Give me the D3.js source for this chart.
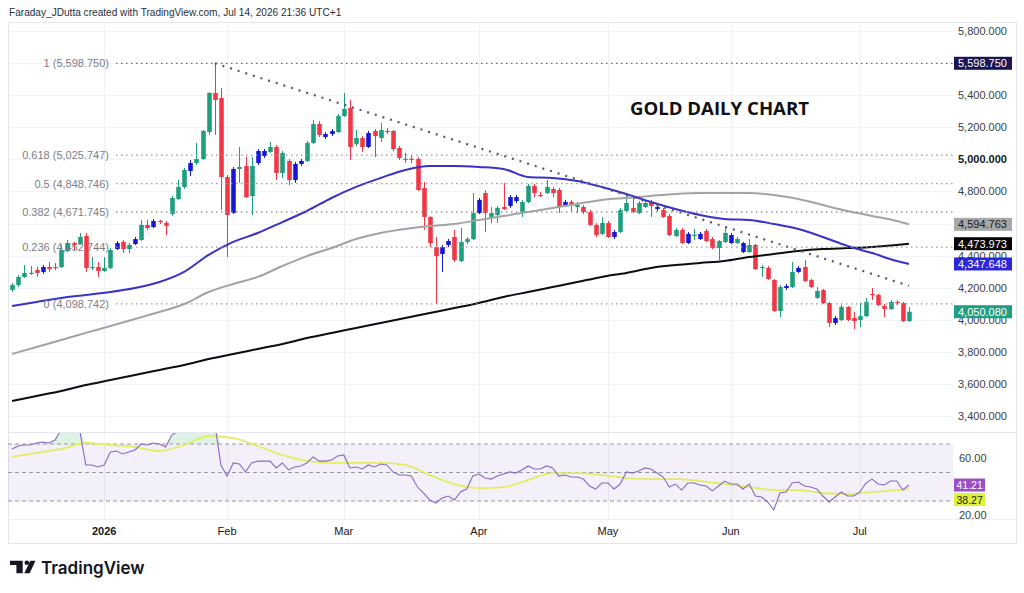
<!DOCTYPE html>
<html><head><meta charset="utf-8">
<script src="https://cdn.jsdelivr.net/npm/d3@7"></script>
<style>
html,body{margin:0;padding:0;background:#fff;}
svg{display:block;font-family:"Liberation Sans",Arial,sans-serif;}
</style></head><body>
<svg id="chart" width="1024" height="593"></svg>
<script>
// ---------------- DATA ----------------
const startDate = "2025-12-10";
const endDate = "2026-07-14";
const holidays = ["2025-12-25","2026-01-01","2026-01-19","2026-02-16","2026-04-03","2026-05-25","2026-06-19","2026-07-03"];

// [open, high, low, close] per trading day
const candles = [
[4186,4229,4173,4217],[4217,4279,4204,4267],[4267,4341,4260,4292],[4290,4335,4279,4293],[4310,4329,4267,4292],
[4298,4341,4285,4329],[4329,4360,4298,4316],[4329,4354,4310,4323],[4329,4466,4323,4435],[4429,4497,4422,4478],
[4478,4485,4435,4466],[4472,4541,4466,4516],[4522,4541,4298,4323],[4323,4391,4310,4329],[4329,4360,4267,4304],
[4304,4391,4298,4323],[4323,4447,4316,4435],[4441,4491,4435,4478],[4485,4497,4416,4441],[4441,4478,4416,4466],
[4472,4516,4466,4503],[4497,4622,4491,4591],[4591,4622,4560,4572],[4578,4628,4572,4616],[4616,4622,4597,4609],
[4603,4616,4528,4585],[4659,4771,4647,4759],[4753,4871,4747,4828],[4828,4946,4815,4934],[4927,4996,4896,4977],
[4977,5102,4965,5002],[5002,5183,4996,5177],[5170,5420,5152,5414],[5414,5598.75,5152,5370],[5382,5445,4684,4890],
[4890,4902,4391,4653],[4666,4952,4659,4940],[4940,5077,4853,4952],[4958,5015,4759,4765],[4771,5015,4653,4958],
[4977,5064,4965,5052],[5021,5064,5008,5052],[5046,5108,5040,5077],[5077,5089,4871,4915],[4915,5052,4884,5040],
[4990,5002,4840,4871],[4871,4983,4853,4971],[4971,5002,4958,4990],[4990,5114,4983,5102],[5102,5245,5096,5220],
[5220,5239,5139,5152],[5139,5170,5127,5158],[5158,5189,5145,5177],[5170,5283,5164,5270],[5270,5414,5264,5314],
[5320,5370,4996,5077],[5096,5183,5083,5133],[5133,5145,5046,5077],[5077,5177,5071,5164],[5177,5189,5015,5145],
[5133,5227,5108,5183],[5177,5195,5158,5170],[5177,5183,5052,5064],[5071,5083,4996,5008],[5000,5040,4977,5004],
[5004,5027,4977,5000],[5002,5015,4803,4809],[4821,4859,4560,4641],[4641,4645,4453,4478],[4453,4516,4098.742,4397],
[4410,4466,4298,4453],[4466,4503,4453,4491],[4516,4560,4360,4372],[4366,4572,4360,4485],[4485,4516,4472,4503],
[4503,4790,4497,4665],[4665,4759,4659,4747],[4790,4809,4547,4665],[4641,4703,4603,4665],[4653,4709,4603,4697],
[4703,4853,4684,4690],[4709,4778,4697,4765],[4740,4778,4728,4765],[4672,4747,4641,4734],[4734,4846,4728,4834],
[4834,4846,4765,4790],[4778,4796,4765,4771],[4790,4871,4784,4828],[4815,4828,4765,4790],[4809,4821,4666,4703],
[4715,4747,4703,4734],[4734,4747,4672,4722],[4703,4734,4666,4715],[4703,4715,4659,4672],[4672,4684,4585,4591],
[4591,4603,4516,4528],[4535,4641,4528,4603],[4603,4616,4510,4516],[4516,4560,4503,4547],[4547,4697,4541,4684],
[4678,4778,4672,4728],[4697,4759,4666,4672],[4666,4740,4659,4728],[4703,4740,4697,4728],[4734,4747,4641,4709],
[4690,4715,4678,4703],[4684,4697,4635,4641],[4647,4659,4522,4528],[4522,4572,4516,4560],[4560,4572,4472,4478],
[4478,4547,4472,4535],[4525,4566,4497,4530],[4503,4547,4497,4535],[4553,4566,4485,4491],[4503,4516,4441,4447],
[4447,4497,4372,4491],[4485,4578,4478,4541],[4478,4541,4472,4528],[4478,4516,4472,4503],[4478,4485,4416,4422],
[4422,4503,4416,4466],[4466,4472,4310,4316],[4323,4341,4267,4329],[4323,4335,4248,4254],[4248,4254,4048,4055],
[4055,4217,4017,4204],[4198,4223,4185,4210],[4204,4360,4198,4298],[4298,4335,4292,4323],[4329,4372,4235,4242],
[4248,4254,4198,4204],[4136,4204,4129,4179],[4185,4192,4098,4104],[4104,4111,3955,3980],[3980,4023,3967,4011],
[3998,4092,3992,4080],[4080,4086,3992,3998],[4011,4048,3942,3992],[3998,4104,3955,4023],[4023,4136,4017,4111],
[4161,4198,4123,4155],[4155,4161,4086,4092],[4086,4098,4017,4067],[4067,4123,4061,4111],[4111,4123,4092,4104],
[4104,4111,3986,3992],[3992,4079,3986,4050.08]
];
// bars painted blue by the bar-colour indicator
const blueBars = [5,17,20,23,29,36,40,41,46,47,51,52,58,70,71,76,81,82,90,98,105,110,112,117,119,126,128,134];

// moving averages, read at these bar indices
const maIdx = [0,4,8,12,16,20,24,28,32,36,40,44,48,52,56,60,64,68,72,76,80,84,88,92,96,100,104,108,112,116,120,124,128,132,136,140,144,146];
const maBlue = [4086,4111,4136,4154,4173,4198,4235,4298,4404,4485,4541,4609,4678,4759,4828,4884,4934,4958,4958,4952,4940,4890,4884,4865,4828,4784,4734,4690,4653,4628,4622,4597,4566,4516,4460,4416,4366,4347.648];
const maGray = [3787,3830,3874,3918,3961,4005,4048,4098,4173,4223,4267,4335,4397,4447,4503,4541,4566,4584,4597,4622,4647,4672,4697,4722,4747,4759,4772,4784,4790,4790,4790,4778,4753,4715,4678,4647,4616,4594.763];
const maBlack = [3494,3525,3556,3593,3624,3656,3687,3718,3755,3787,3818,3849,3886,3918,3949,3980,4011,4042,4073,4105,4142,4173,4204,4235,4267,4292,4323,4341,4354,4366,4391,4410,4429,4441,4447,4454,4466,4473.973];

// RSI per bar and its moving average (read at maIdx)
const rsi = [66.5,68.6,69.3,69.3,70.7,71.4,70.7,72.8,80,84,
83,80,55.3,55.3,53.9,55.3,64.4,65.1,63,64.4,
65.8,70,69.3,70.7,70,67.9,76.3,79,82,83,
82,85,88,84,55.3,47.5,56.7,56,50.4,56.7,
58,58,58,53.2,56.7,51.8,53.9,54.6,56.7,60.9,
58,58,58.8,61.6,62.3,53.2,53.9,52.5,55.3,53.9,
56,55.3,50.4,48.2,48.2,47.5,39.8,35.6,30.7,28.6,
32.1,33.5,30.7,36.3,38.4,47.5,48.9,46.1,45.4,47.5,
48.9,50.4,49.6,51.8,54.6,52.5,52.5,54.6,53.2,47.5,
48.2,46.8,46.8,45.4,40.5,38.4,42.6,42.6,38.4,41.9,
50.4,49.6,51.1,53.2,52.5,49.6,46.8,39.8,41.9,37.7,
42.6,42.6,41.2,40.5,37.1,40.5,44,41.9,41.9,38.4,
41.9,33.5,32.8,29.3,23.7,35.6,36.3,42.6,43.3,40.5,
39.8,38.4,33.5,29.3,32.8,36.3,33.5,33.5,36.3,42.6,
45.4,41.9,41.2,44,44,37.7,41.21];
const rsiMA = [60.9,63.7,66.5,70.7,69.3,67.9,65.1,69.3,75.6,74.2,68.6,62.3,58.1,56.7,56.7,56.7,55.3,48.2,41.9,39.1,39.8,44.7,49.6,49.6,48.2,46.1,45.4,45.4,44.0,41.9,39.8,37.7,37.7,35.6,34.9,36.3,37.7,38.27];

// Fibonacci retracement
const fibRatios = ["1","0.618","0.5","0.382","0.236","0"];
const fibPrices = [5598.750,5025.747,4848.746,4671.745,4452.744,4098.742];
// descending trendline anchors (bar index, price)
const trendIdx = [33,146];
const trendPrice = [5598.75,4212];

const priceTicks = [5800,5600,5400,5200,5000,4800,4600,4400,4200,4000,3800,3600,3400];
const rsiTicks = [60,20];
const rsiLevels = [70,50,30];
const priceTags = [5598.750,4594.763,4473.973,4347.648,4050.080];
const rsiTags = [41.21,38.27];

// ---------------- LAYOUT ----------------
const PL=8, PR=953, PT=22, PB=432, RT=433, RB=519, FR=1016, FB=543;
const holidaySet = new Set(holidays);
const fmt = d3.utcFormat("%Y-%m-%d");
const dates = d3.utcDay.range(new Date(startDate+"T00:00:00Z"), d3.utcDay.offset(new Date(endDate+"T00:00:00Z"),1))
  .filter(d => d.getUTCDay()!==0 && d.getUTCDay()!==6 && !holidaySet.has(fmt(d)));
const N = candles.length;

const svg = d3.select("#chart");
const x = d3.scaleBand().domain(d3.range(N)).range([9, 912]).paddingInner(0).paddingOuter(0);
const bw = x.bandwidth();
const cx = i => x(i) + bw/2;
const y = d3.scaleLinear().domain([3400,5800]).range([416,31]);
const yr = d3.scaleLinear().domain([30,70]).range([501,444]);

const defs = svg.append("defs");
defs.append("clipPath").attr("id","pclip").append("rect").attr("x",PL).attr("y",PT).attr("width",PR-PL).attr("height",PB-PT);
defs.append("clipPath").attr("id","rclip").append("rect").attr("x",PL).attr("y",RT).attr("width",PR-PL).attr("height",RB-RT);

svg.append("rect").attr("width",1024).attr("height",593).attr("fill","#fff");

// grid
const grid = svg.append("g");
grid.selectAll(".hg").data(priceTicks).join("line")
  .attr("x1",PL).attr("x2",PR).attr("y1",d=>Math.round(y(d))+0.5).attr("y2",d=>Math.round(y(d))+0.5)
  .attr("stroke","#f0f3fa");
const monthIdx = d3.range(N).filter(i => i>0 && dates[i].getUTCMonth()!==dates[i-1].getUTCMonth());
grid.selectAll(".vg").data(monthIdx).join("line")
  .attr("x1",i=>Math.round(cx(i))+0.5).attr("x2",i=>Math.round(cx(i))+0.5).attr("y1",PT).attr("y2",RB)
  .attr("stroke","#eef1f6");

// frame
svg.append("rect").attr("x",PL+0.5).attr("y",PT+0.5).attr("width",FR-PL).attr("height",FB-PT)
  .attr("fill","none").attr("stroke","#e3e6ec");
svg.append("line").attr("x1",PL).attr("x2",FR).attr("y1",RT-0.5).attr("y2",RT-0.5).attr("stroke","#e3e6ec");
svg.append("line").attr("x1",PL).attr("x2",FR).attr("y1",RB+0.5).attr("y2",RB+0.5).attr("stroke","#eceef2");

// ---------------- PRICE PANE ----------------
const pane = svg.append("g").attr("clip-path","url(#pclip)");

// fib levels
const fibG = svg.append("g");
fibPrices.forEach((p,k)=>{
  fibG.append("line").attr("x1",116).attr("x2",PR).attr("y1",y(p)).attr("y2",y(p))
    .attr("stroke", k===0 ? "#6b6e78" : "#9598a1").attr("stroke-width",1.3).attr("stroke-dasharray","1.5 3.5");
  fibG.append("text").attr("x",109).attr("y",y(p)+4).attr("text-anchor","end")
    .attr("font-size",11).attr("fill","#7b7e88")
    .text(`${fibRatios[k]} (${d3.format(",.3f")(p)})`);
});

// candles
const blueSet = new Set(blueBars);
const colorOf = (c,i) => blueSet.has(i) ? "#1616d8" : (c[3] >= c[0] ? "#1d9e7c" : "#f23645");
const cg = pane.append("g");
cg.selectAll("line").data(candles).join("line")
  .attr("x1",(c,i)=>Math.round(cx(i))+0.5).attr("x2",(c,i)=>Math.round(cx(i))+0.5)
  .attr("y1",c=>y(c[1])).attr("y2",c=>y(c[2]))
  .attr("stroke",(c,i)=>colorOf(c,i)).attr("stroke-width",1);
const bodyW = Math.max(2, bw*0.74);
cg.selectAll("rect").data(candles).join("rect")
  .attr("x",(c,i)=>Math.round(cx(i))+0.5-bodyW/2).attr("width",bodyW)
  .attr("y",c=>y(Math.max(c[0],c[3])))
  .attr("height",c=>Math.max(1.2, Math.abs(y(c[0])-y(c[3]))))
  .attr("fill",(c,i)=>colorOf(c,i));

// moving averages
const maLine = d3.line().x((v,k)=>cx(maIdx[k])).y(v=>y(v)).curve(d3.curveMonotoneX);
pane.append("path").datum(maBlack).attr("d",maLine).attr("fill","none").attr("stroke","#0d0d0d").attr("stroke-width",2);
pane.append("path").datum(maGray).attr("d",maLine).attr("fill","none").attr("stroke","#a3a3a3").attr("stroke-width",2);
pane.append("path").datum(maBlue).attr("d",maLine).attr("fill","none").attr("stroke","#3a32c8").attr("stroke-width",2);

// trendline
pane.append("line")
  .attr("x1",cx(trendIdx[0])).attr("y1",y(trendPrice[0]))
  .attr("x2",cx(trendIdx[1])).attr("y2",y(trendPrice[1]))
  .attr("stroke","#555a66").attr("stroke-width",2.2).attr("stroke-dasharray","2 6");

// title
svg.append("text").attr("x",630).attr("y",115).attr("font-family","'Open Sans',sans-serif")
  .attr("font-weight",700).attr("font-size",18.6).attr("fill","#111").text("GOLD DAILY CHART");

// price axis
const pAxis = svg.append("g").attr("transform",`translate(${PR},0)`)
  .call(d3.axisRight(y).tickValues(priceTicks).tickFormat(d3.format(",.3f")).tickSize(0).tickPadding(5));
pAxis.select(".domain").remove();
pAxis.selectAll("text").attr("font-family","'Liberation Sans',Arial,sans-serif").attr("font-size",11)
  .attr("font-weight",d=>d===5000?700:400).attr("fill",d=>d===5000?"#131722":"#3a3d46");

const tagColors = [["#1c1550","#fff"],["#a8a8a8","#1a1a1a"],["#050505","#fff"],["#2a26dc","#fff"],["#1f9e83","#fff"]];
const tagG = svg.append("g");
priceTags.forEach((v,k)=>{
  const yy = y(v);
  tagG.append("rect").attr("x",954).attr("y",yy-6.5).attr("width",58).attr("height",13).attr("fill",tagColors[k][0]);
  tagG.append("text").attr("x",958).attr("y",yy+4).attr("font-size",11).attr("fill",tagColors[k][1]).text(d3.format(",.3f")(v));
});

// ---------------- RSI PANE ----------------
svg.append("rect").attr("x",PL).attr("width",PR-PL).attr("y",yr(70)).attr("height",yr(30)-yr(70))
  .attr("fill","#7e57c2").attr("fill-opacity",0.09);
svg.selectAll(".rl").data(rsiLevels).join("line")
  .attr("x1",PL).attr("x2",PR).attr("y1",d=>yr(d)).attr("y2",d=>yr(d))
  .attr("stroke","#9598a1").attr("stroke-width",1).attr("stroke-dasharray","4 3");

const rp = svg.append("g").attr("clip-path","url(#rclip)");
const obArea = d3.area().x((v,i)=>cx(i)).y0(yr(70)).y1(v=>yr(Math.max(v,70)));
rp.append("path").datum(rsi).attr("d",obArea).attr("fill","#66cc88").attr("fill-opacity",0.22);
rp.append("path").datum(rsiMA).attr("d",d3.line().x((v,k)=>cx(maIdx[k])).y(v=>yr(v)).curve(d3.curveMonotoneX))
  .attr("fill","none").attr("stroke","#e3ec62").attr("stroke-width",1.8);
rp.append("path").datum(rsi).attr("d",d3.line().x((v,i)=>cx(i)).y(v=>yr(v)))
  .attr("fill","none").attr("stroke","#8a67c6").attr("stroke-width",1.1);

const rAxis = svg.append("g").attr("transform",`translate(${PR},0)`)
  .call(d3.axisRight(yr).tickValues(rsiTicks).tickFormat(d3.format(".2f")).tickSize(0).tickPadding(6));
rAxis.select(".domain").remove();
rAxis.selectAll("text").attr("font-family","'Liberation Sans',Arial,sans-serif").attr("font-size",11).attr("fill","#3a3d46");

const rsiTagColors = [["#9b4fc6","#fff"],["#def23a","#1a1a1a"]];
let prevY = -100;
rsiTags.forEach((v,k)=>{
  let yy = yr(v);
  if (yy - prevY < 14) yy = prevY + 14.5;
  prevY = yy;
  svg.append("rect").attr("x",954).attr("y",yy-6.5).attr("width",31).attr("height",13).attr("fill",rsiTagColors[k][0]);
  svg.append("text").attr("x",956.5).attr("y",yy+4).attr("font-size",10.5).attr("fill",rsiTagColors[k][1]).text(d3.format(".2f")(v));
});

// ---------------- TIME AXIS ----------------
const tAxis = svg.append("g").attr("transform",`translate(0,${RB})`)
  .call(d3.axisBottom(x).tickValues(monthIdx).tickSize(0).tickPadding(8)
    .tickFormat(i => dates[i].getUTCMonth()===0 ? String(dates[i].getUTCFullYear()) : d3.utcFormat("%b")(dates[i])));
tAxis.select(".domain").remove();
tAxis.selectAll("text").attr("font-family","'Liberation Sans',Arial,sans-serif").attr("font-size",11).attr("fill","#131722")
  .attr("font-weight",i=>dates[i].getUTCMonth()===0?700:400);

// ---------------- HEADER / LOGO ----------------
svg.append("text").attr("x",9).attr("y",16).attr("font-size",10.1).attr("fill","#2a2e39")
  .text("Faraday_JDutta created with TradingView.com, Jul 14, 2026 21:36 UTC+1");

const logo = svg.append("g").attr("fill","#131722");
logo.append("path").attr("d","M10,560.7 H22.7 V573.3 H16.4 V565 H10 Z");
logo.append("circle").attr("cx",26.8).attr("cy",562.8).attr("r",2.3);
logo.append("path").attr("d","M30.2,560.7 H35.5 L29.6,573.3 H24.3 Z");
svg.append("text").attr("x",41).attr("y",573.5).attr("font-family","Inter,'Open Sans',sans-serif")
  .attr("font-weight",600).attr("font-size",17).attr("fill","#131722").text("TradingView");
</script>
</body></html>
